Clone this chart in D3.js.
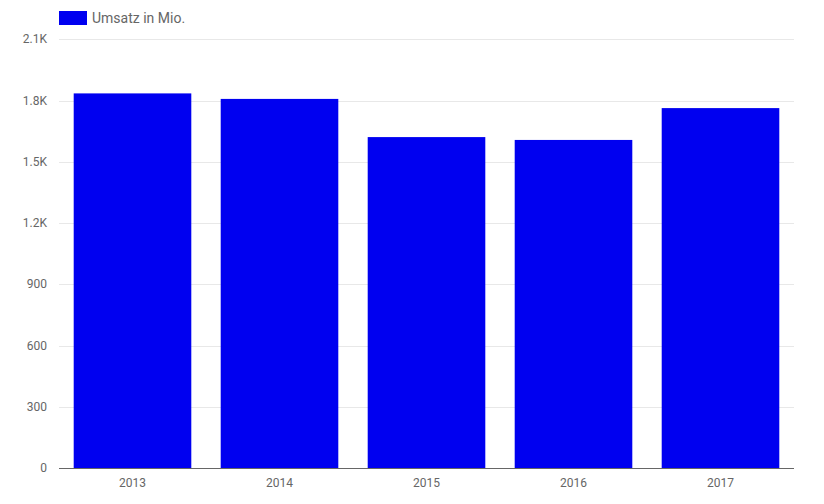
<!DOCTYPE html>
<html><head><meta charset="utf-8">
<script src="https://cdn.jsdelivr.net/npm/d3@7"></script>
<style>body{margin:0;background:#fff;} text{font-family:Roboto,sans-serif;}</style>
</head><body><svg id="c" width="824" height="504"></svg>
<script>
const categories = ["2013","2014","2015","2016","2017"];
const values = [1835, 1808, 1621, 1607, 1763];
const yTicks = [0,300,600,900,1200,1500,1800,2100];
const yTickLabels = ["0","300","600","900","1.2K","1.5K","1.8K","2.1K"];
const seriesName = "Umsatz in Mio.";

const svg = d3.select("#c");
const m = {left:59, right:794, top:39.3, bottom:468};
const x = d3.scaleBand().domain(categories).range([m.left, m.right]).paddingInner(0.2).paddingOuter(0.1);
const y = d3.scaleLinear().domain([0,2100]).range([m.bottom, m.top]);

// grid
svg.append("g").selectAll("line").data(yTicks.slice(1)).join("line")
  .attr("x1", m.left).attr("x2", m.right)
  .attr("y1", d=>Math.round(y(d))+0.5).attr("y2", d=>Math.round(y(d))+0.5)
  .attr("stroke","#e8e8e8").attr("stroke-width",1);

// y labels
svg.append("g").selectAll("text").data(yTicks).join("text")
  .attr("x", 47).attr("y", d=>y(d)+4)
  .attr("text-anchor","end").attr("font-size",12).attr("fill","#666")
  .text((d,i)=>yTickLabels[i]);

// bars
svg.append("g").selectAll("rect").data(values).join("rect")
  .attr("x",(d,i)=>x(categories[i])).attr("width",x.bandwidth())
  .attr("y",d=>y(d)).attr("height",d=>y(0)-y(d))
  .attr("fill","#0000f0");

// x axis line
svg.append("line").attr("x1",m.left).attr("x2",m.right)
  .attr("y1",m.bottom+0.5).attr("y2",m.bottom+0.5)
  .attr("stroke","#666").attr("stroke-width",1);

// x labels
svg.append("g").selectAll("text").data(categories).join("text")
  .attr("x",d=>x(d)+x.bandwidth()/2).attr("y",487)
  .attr("text-anchor","middle").attr("font-size",12).attr("fill","#666")
  .text(d=>d);

// legend
svg.append("rect").attr("x",59).attr("y",11).attr("width",28).attr("height",14).attr("fill","#0000f0");
svg.append("text").attr("x",92).attr("y",23).attr("font-size",14).attr("fill","#666").text(seriesName);
</script></body></html>
